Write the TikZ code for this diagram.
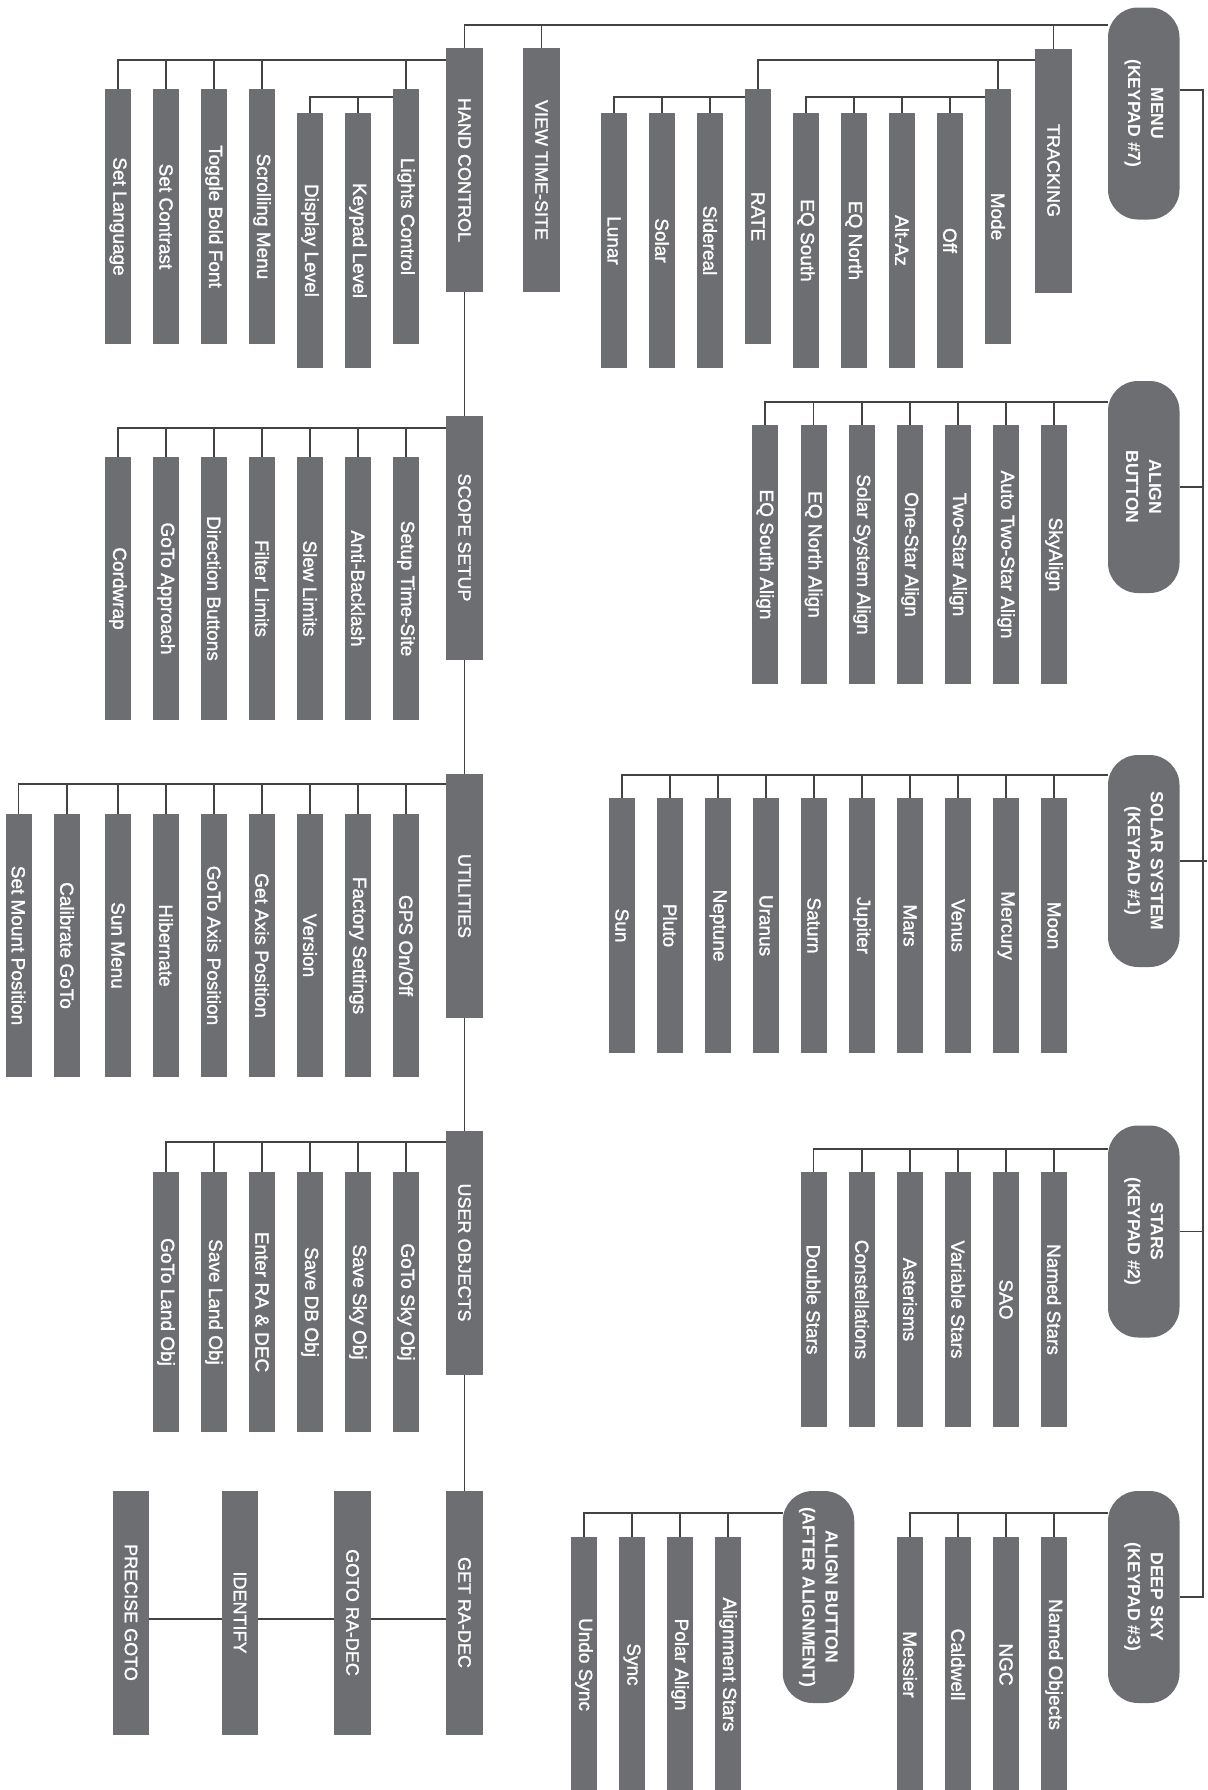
\documentclass[tikz,border=0pt]{standalone}
\usepackage{fontspec}
\setmainfont{Liberation Sans}
\newfontfamily\medfont[FakeBold=1.4]{Liberation Sans}
\definecolor{boxgrey}{HTML}{6D6E71}
\definecolor{linegrey}{HTML}{424242}
\begin{document}
\begin{tikzpicture}[x=0.5pt,y=-0.5pt,
  cbox/.style={rotate=-90, fill=boxgrey, text=white, inner sep=0pt, outer sep=0pt,
    minimum width=127.5pt, minimum height=13pt, font=\medfont\fontsize{9.5}{11}\selectfont},
  mbox/.style={rotate=-90, fill=boxgrey, text=white, inner sep=0pt, outer sep=0pt,
    minimum width=122pt, minimum height=18.25pt, font=\medfont\fontsize{9}{11}\selectfont},
  pill/.style={rotate=-90, fill=boxgrey, text=white, inner sep=0pt, outer sep=0pt,
    rounded corners=15pt, minimum width=106pt, minimum height=35.75pt, align=center,
    font=\bfseries\fontsize{8.8}{11.5}\selectfont},
  conn/.style={draw=linegrey, line width=0.6pt},
]
\useasboundingbox (0,0) rectangle (1207,1790);

% ---------- pills (right column) ----------
\node[pill] (menu)  at (1143.75,113.5) {MENU\\(KEYPAD \#7)};
\node[pill] (align) at (1143.75,487)   {ALIGN\\BUTTON};
\node[pill] (solar) at (1143.75,861)   {SOLAR SYSTEM\\(KEYPAD \#1)};
\node[pill] (stars) at (1143.75,1231.5){STARS\\(KEYPAD \#2)};
\node[pill] (deep)  at (1143.75,1597)  {DEEP SKY\\(KEYPAD \#3)};
\node[pill] (after) at (818.5,1597)    {ALIGN BUTTON\\(AFTER ALIGNMENT)};

% ---------- main boxes ----------
\node[mbox] (hc)    at (464.5,170)    {HAND CONTROL};
\node[mbox] (view)  at (541.5,170)    {VIEW TIME-SITE};
\node[mbox] (track) at (1053.5,170.5) {TRACKING};
\node[mbox] (scope) at (464.5,537.5)  {SCOPE SETUP};
\node[mbox] (util)  at (464.5,896)    {UTILITIES};
\node[mbox] (user)  at (464.5,1252.5) {USER OBJECTS};
\node[mbox] (get)   at (464.5,1612.5) {GET RA-DEC};
\node[mbox] (gotor) at (352.5,1612.5) {GOTO RA-DEC};
\node[mbox] (ident) at (240,1612.5)   {IDENTIFY};
\node[mbox] (prec)  at (131,1612.5)   {PRECISE GOTO};

% ---------- hand control children ----------
\foreach \nm/\xx/\tt in {lang/118/{Set Language}, contr/166/{Set Contrast},
    boldf/214/{Toggle Bold Font}, scroll/262/{Scrolling Menu}, lights/406/{Lights Control}}
  \node[cbox] (\nm) at (\xx,216.5) {\tt};
\foreach \nm/\xx/\tt in {disp/310/{Display Level}, keyp/358/{Keypad Level}}
  \node[cbox] (\nm) at (\xx,240.5) {\tt};

% ---------- tracking children ----------
\node[cbox] (rate) at (758,216.5) {RATE};
\node[cbox] (mode) at (998,216.5) {Mode};
\foreach \nm/\xx/\tt in {lunar/614/{Lunar}, solarr/662/{Solar}, sider/710/{Sidereal},
    eqs/806/{EQ South}, eqn/854/{EQ North}, altaz/902/{Alt-Az}, off/950/{Off}}
  \node[cbox] (\nm) at (\xx,240.5) {\tt};

% ---------- scope setup children ----------
\foreach \nm/\xx/\tt in {cord/118/{Cordwrap}, gapp/166/{GoTo Approach},
    dirb/214/{Direction Buttons}, filt/262/{Filter Limits}, slew/310/{Slew Limits},
    antib/358/{Anti-Backlash}, setts/406/{Setup Time-Site}}
  \node[cbox, minimum width=131.5pt] (\nm) at (\xx,588.5) {\tt};

% ---------- utilities children ----------
\foreach \nm/\xx/\tt in {smount/18.5/{Set Mount Position}, calib/67/{Calibrate GoTo},
    sunm/118/{Sun Menu}, hib/166/{Hibernate}, gaxis/214/{GoTo Axis Position},
    getax/262/{Get Axis Position}, vers/310/{Version}, fact/358/{Factory Settings},
    gps/406/{GPS On/Off}}
  \node[cbox, minimum width=131.5pt] (\nm) at (\xx,945.5) {\tt};

% ---------- user objects children ----------
\foreach \nm/\xx/\tt in {gland/166/{GoTo Land Obj}, sland/214/{Save Land Obj},
    entra/262/{Enter RA \& DEC}, sdb/310/{Save DB Obj}, ssky/358/{Save Sky Obj},
    gsky/406/{GoTo Sky Obj}}
  \node[cbox, minimum width=130pt] (\nm) at (\xx,1302) {\tt};

% ---------- align children ----------
\foreach \nm/\xx/\tt in {eqsa/765/{EQ South Align}, eqna/813.5/{EQ North Align},
    ssa/862/{Solar System Align}, osa/910/{One-Star Align}, tsa/958/{Two-Star Align},
    atsa/1006/{Auto Two-Star Align}, skya/1054/{SkyAlign}}
  \node[cbox, minimum width=129.5pt] (\nm) at (\xx,554.5) {\tt};

% ---------- solar system children ----------
\foreach \nm/\xx/\tt in {sun/622/{Sun}, pluto/670/{Pluto}, nept/718/{Neptune},
    uran/766/{Uranus}, sat/814/{Saturn}, jup/862/{Jupiter}, mars/910/{Mars},
    venus/958/{Venus}, merc/1006/{Mercury}, moon/1054/{Moon}}
  \node[cbox] (\nm) at (\xx,925.5) {\tt};

% ---------- stars children ----------
\foreach \nm/\xx/\tt in {dbl/813.5/{Double Stars}, const/862/{Constellations},
    aster/910/{Asterisms}, varst/958/{Variable Stars}, sao/1006/{SAO},
    named/1054/{Named Stars}}
  \node[cbox] (\nm) at (\xx,1299.5) {\tt};

% ---------- deep sky children ----------
\foreach \nm/\xx/\tt in {mess/910/{Messier}, cald/958/{Caldwell}, ngc/1006/{NGC},
    nobj/1054/{Named Objects}}
  \node[cbox] (\nm) at (\xx,1664.5) {\tt};

% ---------- align (after alignment) children ----------
\foreach \nm/\xx/\tt in {undo/584/{Undo Sync}, sync/632/{Sync}, polar/680/{Polar Align},
    alst/728/{Alignment Stars}}
  \node[cbox] (\nm) at (\xx,1664.5) {\tt};

% ---------- bus coordinates ----------
\coordinate (topbus) at (0,25);
\coordinate (hcbus)  at (0,60);
\coordinate (lbus)   at (0,97);
\coordinate (sbus)   at (0,428);
\coordinate (ubus)   at (0,784);
\coordinate (obus)   at (0,1142);
\coordinate (gbus)   at (0,1619);
\coordinate (abus)   at (0,402);
\coordinate (solbus) at (0,775);
\coordinate (stbus)  at (0,1149);
\coordinate (dbus)   at (0,1513);
\coordinate (mconn)  at (0,90);
\coordinate (trunkx) at (1203,0);
\coordinate (redge)  at (1207,0);

% ---------- connectors ----------
% top level
\draw[conn] (hc.west) -- (hc.west |- topbus) -- (topbus -| menu.south);
\draw[conn] (view.west) -- (view.west |- topbus);
\draw[conn] (track.west) -- (track.west |- topbus);

% hand control
\draw[conn] (hcbus -| hc.south) -| (lang.west);
\foreach \nm in {contr,boldf,scroll,lights} \draw[conn] (hcbus -| \nm.west) -- (\nm.west);
\draw[conn] (lbus -| lights.south) -| (disp.west);
\draw[conn] (lbus -| keyp.west) -- (keyp.west);

% tracking
\draw[conn] (hcbus -| track.south) -| (rate.west);
\draw[conn] (hcbus -| mode.west) -- (mode.west);
\draw[conn] (lbus -| rate.south) -| (lunar.west);
\foreach \nm in {solarr,sider} \draw[conn] (lbus -| \nm.west) -- (\nm.west);
\draw[conn] (lbus -| mode.south) -| (eqs.west);
\foreach \nm in {eqn,altaz,off} \draw[conn] (lbus -| \nm.west) -- (\nm.west);

% main column
\draw[conn] (hc.east) -- (scope.west);
\draw[conn] (scope.east) -- (util.west);
\draw[conn] (util.east) -- (user.west);
\draw[conn] (user.east) -- (get.west);

% scope setup
\draw[conn] (sbus -| scope.south) -| (cord.west);
\foreach \nm in {gapp,dirb,filt,slew,antib,setts} \draw[conn] (sbus -| \nm.west) -- (\nm.west);

% utilities
\draw[conn] (ubus -| util.south) -| (smount.west);
\foreach \nm in {calib,sunm,hib,gaxis,getax,vers,fact,gps} \draw[conn] (ubus -| \nm.west) -- (\nm.west);

% user objects
\draw[conn] (obus -| user.south) -| (gland.west);
\foreach \nm in {sland,entra,sdb,ssky,gsky} \draw[conn] (obus -| \nm.west) -- (\nm.west);

% get ra-dec row
\draw[conn] (gbus -| get.south) -- (gbus -| gotor.north);
\draw[conn] (gbus -| gotor.south) -- (gbus -| ident.north);
\draw[conn] (gbus -| ident.south) -- (gbus -| prec.north);

% trunk on the right
\draw[conn] (mconn -| menu.north) -| (trunkx |- deep) -- (deep.north);
\draw[conn] (align.north) -- (align.north -| trunkx);
\draw[conn] (solar.north) -- (solar.north -| redge);
\draw[conn] (stars.north) -- (stars.north -| trunkx);

% align
\draw[conn] (abus -| align.south) -| (eqsa.west);
\foreach \nm in {eqna,ssa,osa,tsa,atsa,skya} \draw[conn] (abus -| \nm.west) -- (\nm.west);

% solar system
\draw[conn] (solbus -| solar.south) -| (sun.west);
\foreach \nm in {pluto,nept,uran,sat,jup,mars,venus,merc,moon} \draw[conn] (solbus -| \nm.west) -- (\nm.west);

% stars
\draw[conn] (stbus -| stars.south) -| (dbl.west);
\foreach \nm in {const,aster,varst,sao,named} \draw[conn] (stbus -| \nm.west) -- (\nm.west);

% deep sky
\draw[conn] (dbus -| deep.south) -| (mess.west);
\foreach \nm in {cald,ngc,nobj} \draw[conn] (dbus -| \nm.west) -- (\nm.west);

% align after alignment
\draw[conn] (dbus -| after.south) -| (undo.west);
\foreach \nm in {sync,polar,alst} \draw[conn] (dbus -| \nm.west) -- (\nm.west);
\end{tikzpicture}
\end{document}
